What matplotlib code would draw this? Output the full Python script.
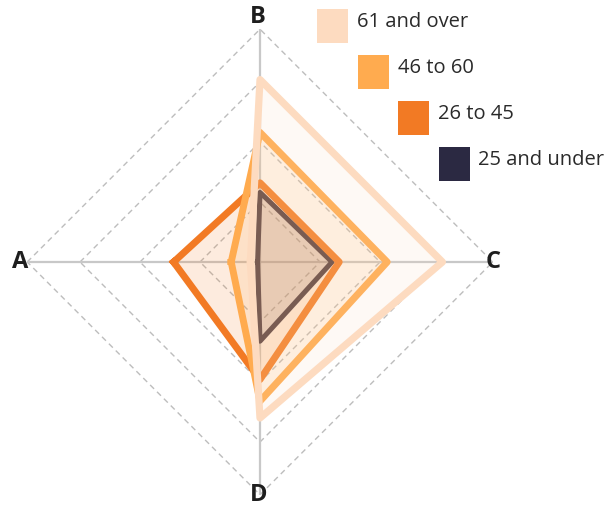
import matplotlib
matplotlib.use("Agg")
import matplotlib.pyplot as plt
import numpy as np
from matplotlib.patches import Rectangle

# ---- data ----
axis_labels = ["A", "B", "C", "D"]
axis_angles_deg = [180, 90, 0, 270]
series_names = ["25 and under", "26 to 45", "46 to 60", "61 and over"]
series_colors = ["#2B2942", "#F27A24", "#FFAB4F", "#FDDBC0"]
values_25_under = [1, 29, 30, 33]
values_26_45 = [36, 33, 33, 49]
values_46_60 = [12, 54, 53, 58]
values_61_over = [4, 76, 76, 65]
grid_levels = [25, 50, 75, 97]
max_value = 97

series_values = [values_25_under, values_26_45, values_46_60, values_61_over]

W, H = 613, 508
CX, CY = 260, 262          # centre in image px (from top-left)
PX_PER_UNIT = 2.4

fig = plt.figure(figsize=(W / 100, H / 100), dpi=100)
ax = fig.add_axes([0, 0, 1, 1])
ax.set_xlim(-CX / PX_PER_UNIT, (W - CX) / PX_PER_UNIT)
ax.set_ylim(-(H - CY) / PX_PER_UNIT, CY / PX_PER_UNIT)
ax.set_aspect("equal")
ax.axis("off")


def img(x, y):
    """image px (top-left origin) -> data coords"""
    return (x - CX) / PX_PER_UNIT, (CY - y) / PX_PER_UNIT


ang = np.deg2rad(axis_angles_deg)

# grid diamonds
for lv in grid_levels:
    xs = np.append(lv * np.cos(ang), lv * np.cos(ang[0]))
    ys = np.append(lv * np.sin(ang), lv * np.sin(ang[0]))
    ax.plot(xs, ys, color="#BDBDBD", lw=1.0, ls=(0, (4, 3)), zorder=1)

# axis spokes
for a in ang:
    ax.plot([0, max_value * np.cos(a)], [0, max_value * np.sin(a)],
            color="#C8C8C8", lw=1.6, zorder=1, solid_capstyle="butt")

# series polygons
line_widths = [3.6, 5.0, 5.0, 5.2]
for i, (vals, col) in enumerate(zip(series_values, series_colors)):
    v = np.array(vals, dtype=float)
    xs = v * np.cos(ang)
    ys = v * np.sin(ang)
    ax.fill(xs, ys, color=col, alpha=0.15, lw=0, zorder=2 + 2 * i)
    ax.plot(np.append(xs, xs[0]), np.append(ys, ys[0]), color=col,
            lw=line_widths[i], solid_joinstyle="round", zorder=3 + 2 * i)

# axis labels
label_pos_px = [(20, 262), (258, 17), (493, 262), (259, 495)]
for lab, (px, py) in zip(axis_labels, label_pos_px):
    x, y = img(px, py)
    ax.text(x, y, lab, ha="center", va="center", fontsize=17,
            fontweight="bold", color="#1E1E1E", family="Open Sans", zorder=20)

# staggered legend (largest group first)
for k, idx in enumerate([3, 2, 1, 0]):
    left = 317 + 40.5 * k
    top = 9 + 46 * k
    x0, y0 = img(left, top + 34)
    ax.add_patch(Rectangle((x0, y0), 31 / PX_PER_UNIT, 34 / PX_PER_UNIT,
                           color=series_colors[idx], lw=0, zorder=20))
    tx, ty = img(left + 40, top + 18)
    ax.text(tx, ty, series_names[idx], ha="left", va="baseline",
            fontsize=14.5, color="#2A2A2A", family="Open Sans", zorder=20)

fig.savefig("out.png", dpi=100)
